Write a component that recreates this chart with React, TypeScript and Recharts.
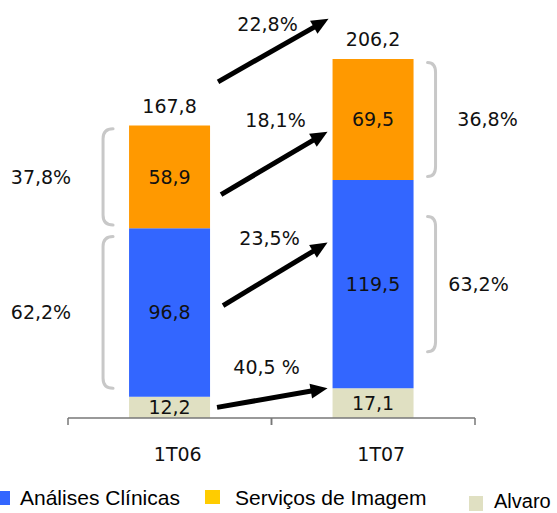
import React from 'react';
import { BarChart, Bar, XAxis, YAxis, LabelList, Customized } from 'recharts';

// --- data ---
const categories = ['1T06', '1T07'];
const alvaro = [12.2, 17.1];
const analises = [96.8, 119.5];
const imagem = [58.9, 69.5];
const totals = [167.8, 206.2];
const growthLabels = ['22,8%', '18,1%', '23,5%', '40,5 %']; // total, imagem, analises, alvaro
const share1T06 = ['37,8%', '62,2%']; // imagem, analises
const share1T07 = ['36,8%', '63,2%'];
const legendLabels = ['Análises Clínicas', 'Serviços de Imagem', 'Alvaro'];

const BLUE = '#3366FF';
const ORANGE = '#FF9900';
const BEIGE = '#E0E0C2';
const LEGEND_YELLOW = '#FFCC00';
const NUM_FONT = '"DejaVu Sans", Verdana, sans-serif';
const LEGEND_FONT = '"Liberation Sans", Arial, sans-serif';

// chart geometry (shared with the annotation layer)
const W = 557;
const H = 513;
const margin = { top: 0, right: 82, bottom: 65, left: 68 };
const xAxisHeight = 30;
const yMax = 240;
const plotBottom = H - margin.bottom - xAxisHeight;
const plotH = plotBottom - margin.top;
const band = (W - margin.left - margin.right) / categories.length;
const gap = band * 0.3;
const barW = Math.floor(band - 2 * gap);
const yPx = (v: number) => plotBottom - (v / yMax) * plotH;
const barLeft = (i: number) => margin.left + band * i + gap;
const barRight = (i: number) => barLeft(i) + barW;

const data = categories.map((name, i) => ({
  name,
  alvaro: alvaro[i],
  analises: analises[i],
  imagem: imagem[i],
  total: totals[i],
}));

const fmt = (v: any) => Number(v).toFixed(1).replace('.', ',');

function Arrow({ x1, y1, x2, y2 }: { x1: number; y1: number; x2: number; y2: number }) {
  const len = Math.hypot(x2 - x1, y2 - y1);
  const ux = (x2 - x1) / len;
  const uy = (y2 - y1) / len;
  const head = 17;
  const half = 7.5;
  const bx = x2 - ux * head;
  const by = y2 - uy * head;
  const pts = `${x2},${y2} ${bx - uy * half},${by + ux * half} ${bx + uy * half},${by - ux * half}`;
  return (
    <g>
      <line x1={x1} y1={y1} x2={bx + ux * 2} y2={by + uy * 2} stroke="#000" strokeWidth={5} />
      <polygon points={pts} fill="#000" />
    </g>
  );
}

function Brace({ x, tip, top, bottom }: { x: number; tip: number; top: number; bottom: number }) {
  const r = 10;
  const d = `M${tip},${top} Q${x},${top} ${x},${top + r} L${x},${bottom - r} Q${x},${bottom} ${tip},${bottom}`;
  return <path d={d} fill="none" stroke="#C8C8C8" strokeWidth={3} strokeLinecap="round" />;
}

const NumText = ({ x, y, children }: { x: number; y: number; children: React.ReactNode }) => (
  <text x={x} y={y} dy="0.35em" textAnchor="middle" fontFamily={NUM_FONT} fontSize={19} fill="#111">
    {children}
  </text>
);

function Annotations() {
  // segment edges in pixels
  const seg = (i: number) => ({
    alvaroTop: yPx(alvaro[i]),
    analisesTop: yPx(alvaro[i] + analises[i]),
    top: yPx(totals[i]),
  });
  const s0 = seg(0);
  const s1 = seg(1);
  const ax1 = barRight(0) + 8;
  const ax2 = barLeft(1) - 5;

  const arrows = [
    { x1: ax1, y1: s1.top - 40 + 63, x2: ax2 + 1, y2: s1.top - 40 },
    { x1: ax1 + 3, y1: yPx(alvaro[1] + analises[1] + imagem[1] * 0.4) + 63, x2: ax2, y2: yPx(alvaro[1] + analises[1] + imagem[1] * 0.4) },
    { x1: ax1 + 5, y1: yPx(alvaro[1] + analises[1] * 0.7) + 63, x2: ax2, y2: yPx(alvaro[1] + analises[1] * 0.7) },
    { x1: ax1 - 1, y1: yPx(alvaro[0] / 2), x2: ax2, y2: s1.alvaroTop },
  ];
  const labelOffsets = [
    [-61, 5],
    [-52, -11],
    [-58, -4],
    [-61, -21],
  ];

  const lx = barLeft(0) - 26;
  const rx = barRight(1) + 22;
  const span = (a: number, b: number, f: number) => {
    const c = (a + b) / 2;
    const h = ((b - a) * f) / 2;
    return [c - h, c + h];
  };
  const l0 = span(s0.top, s0.analisesTop, 0.94);
  const l1 = span(s0.analisesTop, s0.alvaroTop, 0.9);
  const r0 = span(s1.top, s1.analisesTop, 0.94);
  const r1 = span(s1.analisesTop, s1.alvaroTop, 0.65);

  const legendY = 505;
  return (
    <g>
      {arrows.map((a, i) => (
        <g key={i}>
          <Arrow {...a} />
          <NumText x={a.x2 + labelOffsets[i][0]} y={a.y2 + labelOffsets[i][1]}>
            {growthLabels[i]}
          </NumText>
        </g>
      ))}

      <Brace x={lx} tip={lx + 10} top={l0[0]} bottom={l0[1]} />
      <Brace x={lx} tip={lx + 10} top={l1[0]} bottom={l1[1]} />
      <NumText x={41} y={(l0[0] + l0[1]) / 2}>{share1T06[0]}</NumText>
      <NumText x={41} y={(l1[0] + l1[1]) / 2}>{share1T06[1]}</NumText>

      <Brace x={rx} tip={rx - 8} top={r0[0]} bottom={r0[1]} />
      <Brace x={rx} tip={rx - 8} top={r1[0]} bottom={r1[1]} />
      <NumText x={rx + 52} y={(r0[0] + r0[1]) / 2}>{share1T07[0]}</NumText>
      <NumText x={rx + 43} y={(r1[0] + r1[1]) / 2}>{share1T07[1]}</NumText>

      {/* legend */}
      <rect x={-4} y={legendY - 14} width={14} height={14} fill={BLUE} />
      <text x={20} y={legendY} fontFamily={LEGEND_FONT} fontSize={21} fill="#000">
        {legendLabels[0]}
      </text>
      <rect x={205} y={legendY - 15} width={15} height={14} fill={LEGEND_YELLOW} />
      <text x={235} y={legendY} fontFamily={LEGEND_FONT} fontSize={21} fill="#000">
        {legendLabels[1]}
      </text>
      <rect x={469} y={legendY - 9} width={14} height={15} fill={BEIGE} />
      <text x={494} y={legendY + 3} fontFamily={LEGEND_FONT} fontSize={20} fill="#000">
        {legendLabels[2]}
      </text>
    </g>
  );
}

const CategoryTick = ({ x, payload }: any) => (
  <g>
    <line x1={x - band / 2} y1={plotBottom} x2={x - band / 2} y2={plotBottom + 7} stroke="#777" strokeWidth={1.5} />
    <line x1={x + band / 2} y1={plotBottom} x2={x + band / 2} y2={plotBottom + 7} stroke="#777" strokeWidth={1.5} />
    <text x={x + 8} y={plotBottom + 43} textAnchor="middle" fontFamily={NUM_FONT} fontSize={19} fill="#111">
      {payload.value}
    </text>
  </g>
);

export default function App() {
  return (
    <div style={{ position: 'absolute', left: 0, top: 0, width: W, height: H, background: '#fff' }}>
      <BarChart width={W} height={H} data={data} margin={margin} barCategoryGap="30%">
        <XAxis
          dataKey="name"
          height={xAxisHeight}
          axisLine={{ stroke: '#777', strokeWidth: 1.5 }}
          tickLine={false}
          tick={<CategoryTick />}
          interval={0}
        />
        <YAxis hide domain={[0, yMax]} />
        <Bar dataKey="alvaro" stackId="a" fill={BEIGE} isAnimationActive={false}>
          <LabelList dataKey="alvaro" position="center" formatter={fmt} fill="#111" fontFamily={NUM_FONT} fontSize={19} />
        </Bar>
        <Bar dataKey="analises" stackId="a" fill={BLUE} isAnimationActive={false}>
          <LabelList dataKey="analises" position="center" formatter={fmt} fill="#111" fontFamily={NUM_FONT} fontSize={19} />
        </Bar>
        <Bar dataKey="imagem" stackId="a" fill={ORANGE} isAnimationActive={false}>
          <LabelList dataKey="imagem" position="center" formatter={fmt} fill="#111" fontFamily={NUM_FONT} fontSize={19} />
          <LabelList dataKey="total" position="top" offset={13} formatter={fmt} fill="#111" fontFamily={NUM_FONT} fontSize={19} />
        </Bar>
        <Customized component={<Annotations />} />
      </BarChart>
    </div>
  );
}
